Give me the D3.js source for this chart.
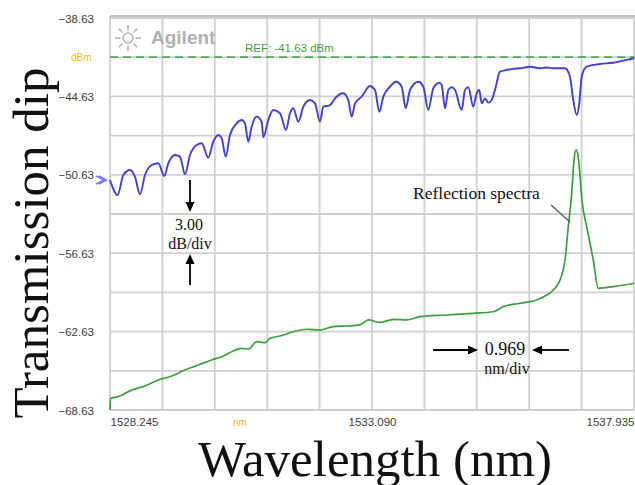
<!DOCTYPE html>
<html>
<head>
<meta charset="utf-8">
<script src="https://cdn.jsdelivr.net/npm/d3@7/dist/d3.min.js"></script>
<style>
  html, body { margin: 0; padding: 0; background: #fff; }
  svg { display: block; }
  .osa-label { font-family: "Liberation Sans", Arial, sans-serif; font-size: 11.5px; fill: #3c3c3c; }
  .serif { font-family: "Liberation Serif", "Times New Roman", serif; fill: #111; }
</style>
</head>
<body>
<svg id="chart" width="635" height="485"></svg>
<script>
// y axis labels (dBm), every 2 divisions of 3 dB
const yTickLabels = [-38.63, -44.63, -50.63, -56.63, -62.63, -68.63];
// x axis labels (nm)
const xTickLabels = [1528.245, 1533.090, 1537.935];
const refLevel = -41.63;
const dbPerDiv = 3.00;
const nmPerDiv = 0.969;

// transmission trace [wavelength nm, dBm]
const transmission = [
  [1528.245, -51.03], [1528.387, -52.18], [1528.491, -50.65], [1528.615, -50.26],
  [1528.707, -50.78], [1528.800, -52.12], [1528.892, -50.65], [1529.016, -49.88],
  [1529.138, -49.75], [1529.249, -50.72], [1529.323, -49.75], [1529.447, -49.11],
  [1529.539, -49.24], [1529.632, -50.59], [1529.724, -49.11], [1529.848, -48.35],
  [1529.941, -48.22], [1530.063, -49.32], [1530.155, -48.10], [1530.248, -47.58],
  [1530.311, -47.84], [1530.385, -49.24], [1530.464, -47.58], [1530.588, -46.69],
  [1530.680, -46.44], [1530.741, -46.69], [1530.802, -48.10], [1530.865, -46.95],
  [1530.958, -46.18], [1531.050, -46.57], [1531.080, -47.76], [1531.172, -46.44],
  [1531.265, -45.67], [1531.389, -45.92], [1531.500, -47.20], [1531.574, -45.92],
  [1531.635, -45.54], [1531.727, -46.57], [1531.820, -45.42], [1531.943, -44.91],
  [1532.036, -45.16], [1532.128, -46.57], [1532.189, -45.42], [1532.313, -45.30],
  [1532.406, -44.78], [1532.559, -44.39], [1532.652, -44.91], [1532.715, -46.18],
  [1532.776, -45.16], [1532.899, -44.65], [1533.053, -43.83], [1533.145, -44.14],
  [1533.225, -45.80], [1533.299, -44.65], [1533.423, -43.89], [1533.534, -43.51],
  [1533.639, -43.89], [1533.713, -45.54], [1533.793, -44.14], [1533.946, -43.51],
  [1534.039, -43.89], [1534.131, -45.67], [1534.223, -44.01], [1534.334, -43.58],
  [1534.379, -43.76], [1534.440, -45.54], [1534.501, -44.14], [1534.564, -43.93],
  [1534.625, -44.14], [1534.749, -45.67], [1534.810, -44.14], [1534.871, -43.93],
  [1534.963, -45.42], [1535.026, -44.39], [1535.074, -44.14], [1535.119, -45.16],
  [1535.180, -44.78], [1535.241, -45.11], [1535.303, -44.91], [1535.364, -44.14],
  [1535.457, -42.74], [1535.581, -42.61], [1535.700, -42.52], [1535.827, -42.48],
  [1536.012, -42.36], [1536.197, -42.48], [1536.320, -42.42], [1536.443, -42.48],
  [1536.659, -42.48], [1536.751, -43.12], [1536.812, -44.91], [1536.875, -46.05],
  [1536.923, -45.16], [1536.968, -43.12], [1537.060, -42.36], [1537.306, -42.15],
  [1537.552, -42.05], [1537.800, -41.84], [1537.935, -41.71]
];

// reflection trace [wavelength nm, dBm]
const reflection = [
  [1528.245, -68.63], [1528.254, -67.73], [1528.398, -67.61], [1528.646, -67.10],
  [1528.892, -66.79], [1529.138, -66.33], [1529.386, -66.03], [1529.632, -65.57],
  [1529.878, -65.19], [1530.126, -64.80], [1530.311, -64.55], [1530.495, -64.17],
  [1530.680, -63.91], [1530.802, -63.98], [1530.958, -63.40], [1531.111, -63.48],
  [1531.204, -63.14], [1531.389, -62.97], [1531.635, -62.64], [1531.882, -62.45],
  [1532.128, -62.51], [1532.374, -62.25], [1532.622, -62.20], [1532.868, -62.12],
  [1533.022, -61.74], [1533.238, -61.93], [1533.484, -61.69], [1533.732, -61.74],
  [1533.978, -61.49], [1534.471, -61.36], [1534.963, -61.23], [1535.333, -61.11],
  [1535.518, -60.72], [1535.827, -60.46], [1536.136, -60.21], [1536.321, -59.83],
  [1536.443, -59.45], [1536.567, -58.68], [1536.659, -57.15], [1536.720, -54.60],
  [1536.783, -52.05], [1536.826, -49.50], [1536.862, -48.73], [1536.899, -49.11],
  [1536.936, -50.65], [1536.973, -52.56], [1537.066, -54.70], [1537.182, -57.15],
  [1537.275, -59.32], [1537.552, -59.19], [1537.935, -58.93]
];

const svg = d3.select("#chart");

const x = d3.scaleLinear().domain([1528.245, 1537.935]).range([110, 634]);
const y = d3.scaleLinear().domain([-68.63, -38.63]).range([410, 18]);

// grid: 10 x 10 divisions
const xDivs = d3.range(11).map(i => 1528.245 + i * nmPerDiv);
const yDivs = d3.range(11).map(i => -68.63 + i * dbPerDiv);

const grid = svg.append("g");
grid.selectAll("line.v").data(xDivs).enter().append("line")
  .attr("x1", d => x(d)).attr("x2", d => x(d))
  .attr("y1", y(-38.63) - 2).attr("y2", y(-68.63))
  .attr("stroke", "#d0d0d0").attr("stroke-width", 1.8);
grid.selectAll("line.h").data(yDivs).enter().append("line")
  .attr("x1", x(1528.245)).attr("x2", 635)
  .attr("y1", d => y(d)).attr("y2", d => y(d))
  .attr("stroke", "#d0d0d0").attr("stroke-width", 1.8);
// top frame line a bit darker
svg.append("line")
  .attr("x1", x(1528.245)).attr("x2", 635)
  .attr("y1", y(-38.63) - 2).attr("y2", y(-38.63) - 2)
  .attr("stroke", "#c4c4c4").attr("stroke-width", 2.2);

// axis labels (no domain line, no ticks)
const yAxis = svg.append("g")
  .attr("transform", "translate(" + (x(1528.245) - 16) + ",0)")
  .call(d3.axisLeft(y).tickValues(yTickLabels).tickSize(0).tickFormat(d3.format(".2f")));
yAxis.select(".domain").remove();
yAxis.selectAll("text").attr("class", "osa-label").attr("x", 0).attr("dy", "0.35em");

const xAxis = svg.append("g")
  .attr("transform", "translate(0," + (y(-68.63) + 8) + ")")
  .call(d3.axisBottom(x).tickValues(xTickLabels).tickSize(0).tickFormat(d3.format(".3f")));
xAxis.select(".domain").remove();
xAxis.selectAll("text").attr("class", "osa-label").attr("y", 0).attr("dy", "0.71em")
  .attr("text-anchor", (d, i) => i === 0 ? "start" : (i === xTickLabels.length - 1 ? "end" : "middle"));
svg.selectAll("g").attr("font-family", null).attr("font-size", null);

// unit labels
svg.append("text").attr("class", "osa-label").attr("x", 71).attr("y", y(refLevel) + 4)
  .style("fill", "#e8b830").style("font-size", "10px").text("dBm");
svg.append("text").attr("class", "osa-label").attr("x", 233).attr("y", 426)
  .style("fill", "#e8b830").style("font-size", "10px").text("nm");

// reference marker on the left
svg.append("path")
  .attr("d", "M96,176 L104,180 L96,184 M99,176 L106,180 L99,184")
  .attr("fill", "none").attr("stroke", "#7a7aff").attr("stroke-width", 1.8);

// REF line
svg.append("line")
  .attr("x1", x(1528.245)).attr("x2", 635)
  .attr("y1", y(refLevel)).attr("y2", y(refLevel))
  .attr("stroke", "#52ad52").attr("stroke-width", 1.8).attr("stroke-dasharray", "8,5");
svg.append("text").attr("class", "osa-label").attr("x", 245).attr("y", y(refLevel) - 5)
  .style("fill", "#3f9f3f").style("font-size", "11.5px").text("REF: -41.63 dBm");

// Agilent logo
const logo = svg.append("g").attr("transform", "translate(128,38)")
  .attr("stroke", "#b4b4b4").attr("stroke-width", 1.6);
logo.append("circle").attr("r", 5).attr("fill", "none");
d3.range(8).forEach(i => {
  const a = i * Math.PI / 4;
  logo.append("line")
    .attr("x1", Math.cos(a) * 7.5).attr("y1", Math.sin(a) * 7.5)
    .attr("x2", Math.cos(a) * 13).attr("y2", Math.sin(a) * 13);
});
svg.append("text").attr("x", 151).attr("y", 44)
  .style("font-family", "'Liberation Sans', Arial, sans-serif")
  .style("font-size", "19px").style("font-weight", "bold").style("fill", "#b0b0b0")
  .text("Agilent");

// traces
const line = d3.line().x(d => x(d[0])).y(d => y(d[1])).curve(d3.curveMonotoneX);
svg.append("path").datum(reflection)
  .attr("d", line).attr("fill", "none")
  .attr("stroke", "#3c9e3c").attr("stroke-width", 1.7);
svg.append("path").datum(transmission)
  .attr("d", line).attr("fill", "none")
  .attr("stroke", "#4040d4").attr("stroke-width", 1.9);

// annotations
function arrow(x1, y1, x2, y2) {
  const ang = Math.atan2(y2 - y1, x2 - x1);
  const len = 10, half = 4.5;
  const bx = x2 - Math.cos(ang) * len, by = y2 - Math.sin(ang) * len;
  svg.append("line").attr("x1", x1).attr("y1", y1).attr("x2", bx).attr("y2", by)
    .attr("stroke", "#000").attr("stroke-width", 1.8);
  svg.append("path")
    .attr("d", "M" + x2 + "," + y2 +
      " L" + (bx - Math.sin(ang) * half) + "," + (by + Math.cos(ang) * half) +
      " L" + (bx + Math.sin(ang) * half) + "," + (by - Math.cos(ang) * half) + "Z")
    .attr("fill", "#000");
}
arrow(190, 180, 190, 212);
arrow(190, 285, 190, 254);
svg.append("text").attr("class", "serif").attr("x", 189).attr("y", 230)
  .attr("text-anchor", "middle").style("font-size", "16px").text(dbPerDiv.toFixed(2));
svg.append("text").attr("class", "serif").attr("x", 190).attr("y", 249)
  .attr("text-anchor", "middle").style("font-size", "16px").text("dB/div");

arrow(433, 350, 478, 350);
arrow(569, 350, 532, 350);
svg.append("text").attr("class", "serif").attr("x", 505).attr("y", 355)
  .attr("text-anchor", "middle").style("font-size", "18px").text(nmPerDiv.toFixed(3));
svg.append("text").attr("class", "serif").attr("x", 507).attr("y", 374)
  .attr("text-anchor", "middle").style("font-size", "16px").text("nm/div");

svg.append("text").attr("class", "serif").attr("x", 413).attr("y", 199)
  .style("font-size", "17.5px").text("Reflection spectra");
svg.append("line").attr("x1", 551).attr("y1", 205).attr("x2", 570).attr("y2", 222)
  .attr("stroke", "#555").attr("stroke-width", 1.2);

// big axis titles
svg.append("text").attr("class", "serif")
  .attr("transform", "translate(48,243) rotate(-90)")
  .attr("text-anchor", "middle").style("font-size", "51px")
  .text("Transmission dip");
svg.append("text").attr("class", "serif").attr("x", 375).attr("y", 476)
  .attr("text-anchor", "middle").style("font-size", "51px")
  .text("Wavelength (nm)");
</script>
</body>
</html>
